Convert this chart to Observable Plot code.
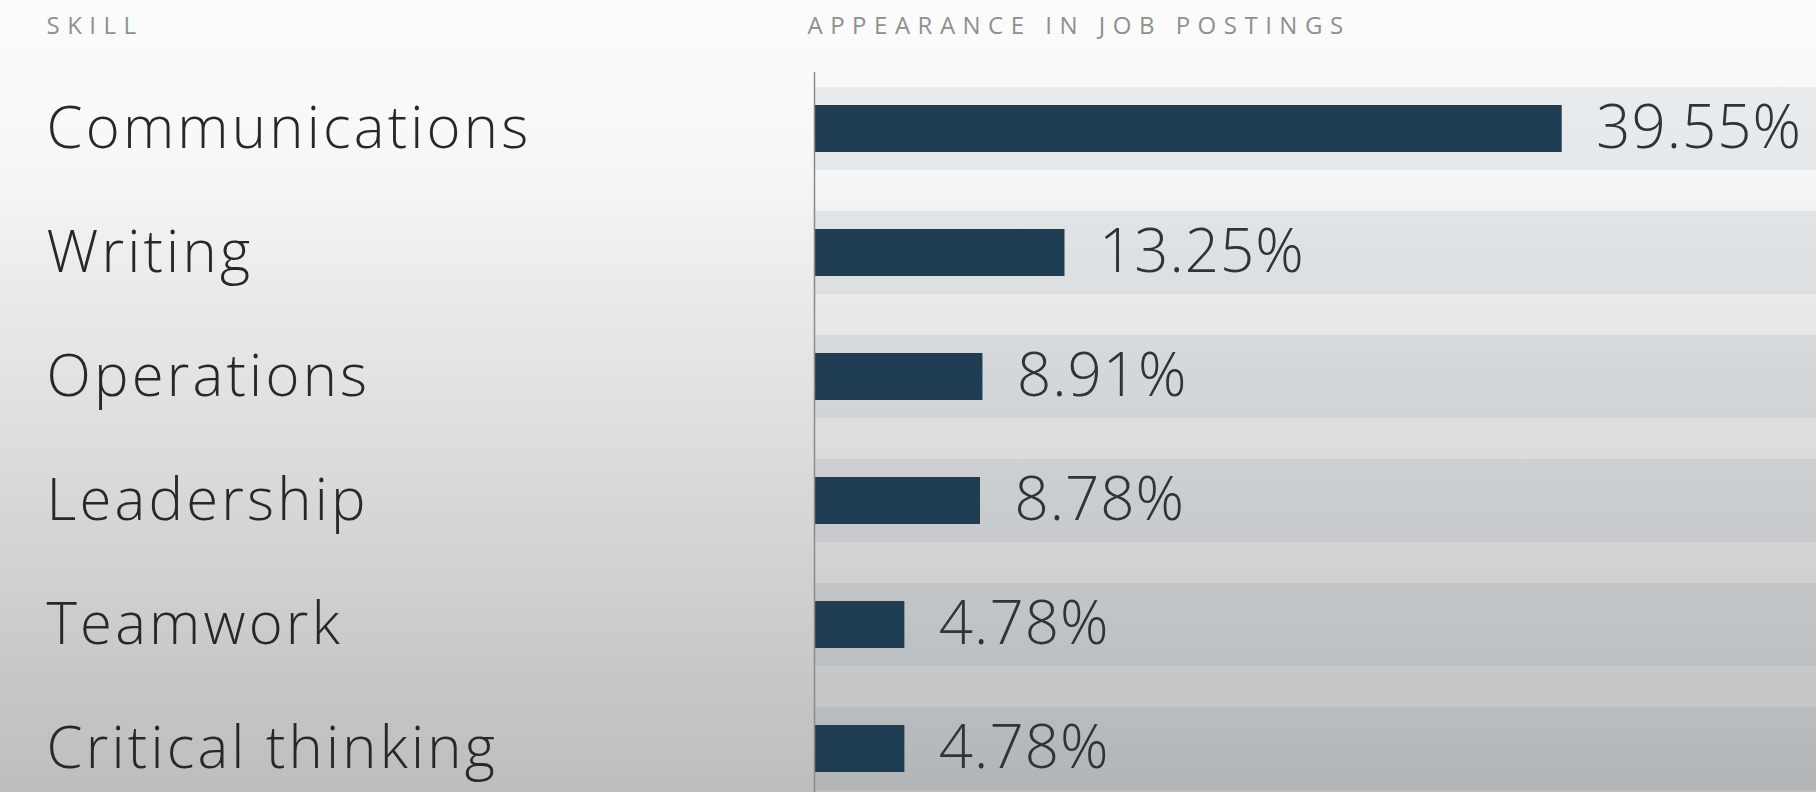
<!DOCTYPE html>
<html><head><meta charset="utf-8">
<script src="https://cdn.jsdelivr.net/npm/d3@7"></script>
<script src="https://cdn.jsdelivr.net/npm/@observablehq/plot@0.6"></script>
<style>
html,body{margin:0;padding:0;overflow:hidden;background:#fff}
#chart svg{display:block}
#chart text{font-variant-ligatures:none}
</style></head><body><div id="chart"></div>
<script>
const skills = ["Communications","Writing","Operations","Leadership","Teamwork","Critical thinking"];
const shares = [39.55, 13.25, 8.91, 8.78, 4.78, 4.78];
const shareLabels = ["39.55%","13.25%","8.91%","8.78%","4.78%","4.78%"];
const headerSkill = ["SKILL"];
const headerValue = ["APPEARANCE IN JOB POSTINGS"];
const xMax = 53;

const data = skills.map((s, i) => ({skill: s, share: shares[i], label: shareLabels[i]}));

const plot = Plot.plot({
  width: 1816, height: 792,
  marginLeft: 814, marginRight: 0, marginTop: 72, marginBottom: 0,
  style: {fontFamily: "'Open Sans', sans-serif", fontWeight: 300, background: "linear-gradient(to bottom, #fcfcfc 0%, #f8f8f8 18%, #bdbdbd 100%)", overflow: "hidden"},
  x: {domain: [0, xMax], axis: null},
  y: {domain: skills, range: [65, 811], paddingInner: 0.624, paddingOuter: 0.3, axis: null},
  marks: [
    Plot.barX(data, {y: "skill", x1: 0, x2: xMax, fill: "#5a7890", fillOpacity: 0.1, insetTop: -18, insetBottom: -18}),
    Plot.barX(data, {y: "skill", x: "share", fill: "#1f3d52"}),
    Plot.ruleX([0], {stroke: "#8a8a8a", strokeWidth: 1.5}),
    Plot.axisY({anchor: "left", tickSize: 0, tickPadding: 0, textAnchor: "start", dx: -768, fontSize: 58, color: "#282828", label: null}),
    Plot.text(data, {y: "skill", x: "share", text: "label", textAnchor: "start", dx: 34, fontSize: 60, fill: "#2f3438"}),
    Plot.text(headerSkill, {text: d => d, frameAnchor: "top-left", textAnchor: "start", dx: -768, dy: -56, fontSize: 24, fontWeight: 400, fill: "#8f8f8f"}),
    Plot.text(headerValue, {text: d => d, frameAnchor: "top-left", textAnchor: "start", dx: -7, dy: -56, fontSize: 24, fontWeight: 400, fill: "#8f8f8f"})
  ]
});

document.getElementById("chart").appendChild(plot);
const svg = d3.select(plot);
svg.selectAll("text").each(function() {
  const t = this.textContent;
  const el = d3.select(this);
  if (t === headerSkill[0] || t === headerValue[0]) el.style("letter-spacing", "7.5px");
  else if (skills.includes(t)) el.style("letter-spacing", "3.2px");
  else if (shareLabels.includes(t)) el.style("letter-spacing", "1px");
});
</script>
</body></html>
